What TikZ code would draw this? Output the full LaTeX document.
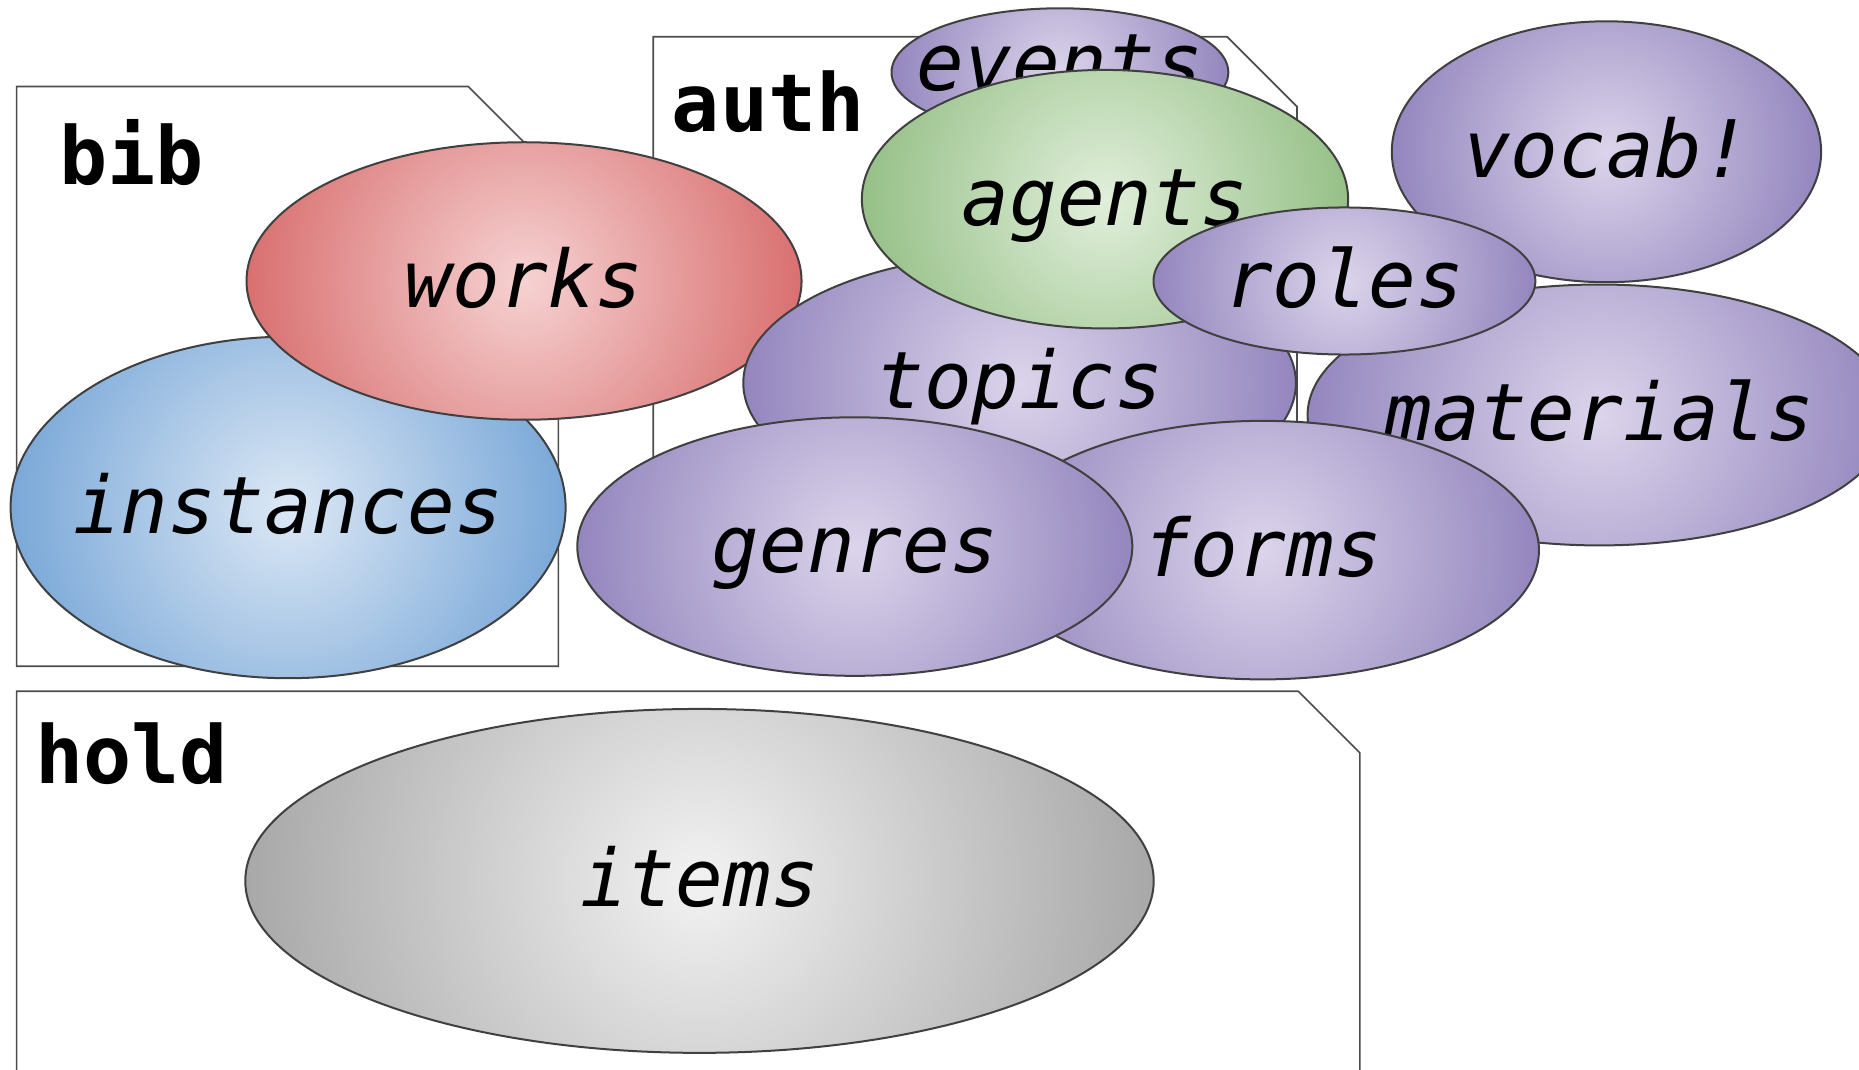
\documentclass[tikz,border=0pt]{standalone}
\usepackage{fontspec}
\usepackage{tikz}
\usetikzlibrary{shapes.geometric, calc}

\newfontfamily\monofam{DejaVu Sans Mono}
\newcommand{\lbl}{\monofam\itshape\fontsize{23.8}{28}\selectfont}
\newcommand{\ttl}{\monofam\bfseries\fontsize{24}{28}\selectfont}

\definecolor{redout}{RGB}{217,112,112}
\definecolor{redin}{RGB}{246,210,210}
\definecolor{blueout}{RGB}{122,168,216}
\definecolor{bluein}{RGB}{220,232,245}
\definecolor{greenout}{RGB}{150,192,135}
\definecolor{greenin}{RGB}{225,239,219}
\definecolor{purpout}{RGB}{148,134,190}
\definecolor{purpin}{RGB}{220,212,235}
\definecolor{grayout}{RGB}{168,168,168}
\definecolor{grayin}{RGB}{242,242,242}

\tikzset{
  folder/.style={draw=black!70, line width=0.5pt},
  blob/.style 2 args={ellipse, draw=black!75, line width=0.6pt, inner xsep=-40pt, inner ysep=0pt,
    font=\lbl, text height=15.6pt, text depth=0pt,
    path picture={\shade [inner color=#1, outer color=#2]
      let \p1=(path picture bounding box.east), \p2=(path picture bounding box.center)
      in (\p2) circle [radius={\x1-\x2}];}},
  redblob/.style={blob={redin}{redout}},
  blueblob/.style={blob={bluein}{blueout}},
  greenblob/.style={blob={greenin}{greenout}},
  purpblob/.style={blob={purpin}{purpout}},
  grayblob/.style={blob={grayin}{grayout}}
}

\begin{document}
\begin{tikzpicture}[x=0.0125cm, y=-0.0125cm]
  \useasboundingbox (0, 0) rectangle (1568, 902);
  \clip (0, 0) rectangle (1568, 902);

  \draw [folder] (14, 73) -- (395, 73) -- (471, 149) -- (471, 562) -- (14, 562) -- cycle;
  \node [font=\ttl] (bib) at (111, 129) {bib};
  \draw [folder] (551, 31) -- (1035, 31) -- (1094, 90) -- (1094, 500) -- (551, 500) -- cycle;
  \node [font=\ttl] (auth) at (648, 86) {auth};
  \draw [folder] (14, 583) -- (1095, 583) -- (1147, 635) -- (1147, 960) -- (14, 960) -- cycle;
  \node [font=\ttl] (hold) at (111, 636) {hold};

  \node [blueblob, minimum width=5.85cm, minimum height=3.6cm] (instances) at (243, 428) {instances};
  \node [redblob, minimum width=5.85cm, minimum height=2.925cm] (works) at (442, 237) {works};
  \node [purpblob, minimum width=3.55cm, minimum height=1.35cm, text depth=5pt] (events) at (894, 61) {events};
  \node [purpblob, minimum width=5.825cm, minimum height=2.725cm] (topics) at (860, 323) {topics};
  \node [greenblob, minimum width=5.125cm, minimum height=2.725cm] (agents) at (932, 168) {agents};
  \node [purpblob, minimum width=4.525cm, minimum height=2.75cm] (vocab) at (1355, 128) {vocab!};
  \node [purpblob, minimum width=6.15cm, minimum height=2.75cm] (materials) at (1349, 350) {materials};
  \node [purpblob, minimum width=4.025cm, minimum height=1.55cm] (roles) at (1134, 237) {roles};
  \node [purpblob, minimum width=5.825cm, minimum height=2.725cm] (forms) at (1065, 464) {forms};
  \node [purpblob, minimum width=5.85cm, minimum height=2.725cm] (genres) at (721, 461) {genres};
  \node [grayblob, minimum width=9.575cm, minimum height=3.625cm] (items) at (590, 743) {items};
\end{tikzpicture}
\end{document}
